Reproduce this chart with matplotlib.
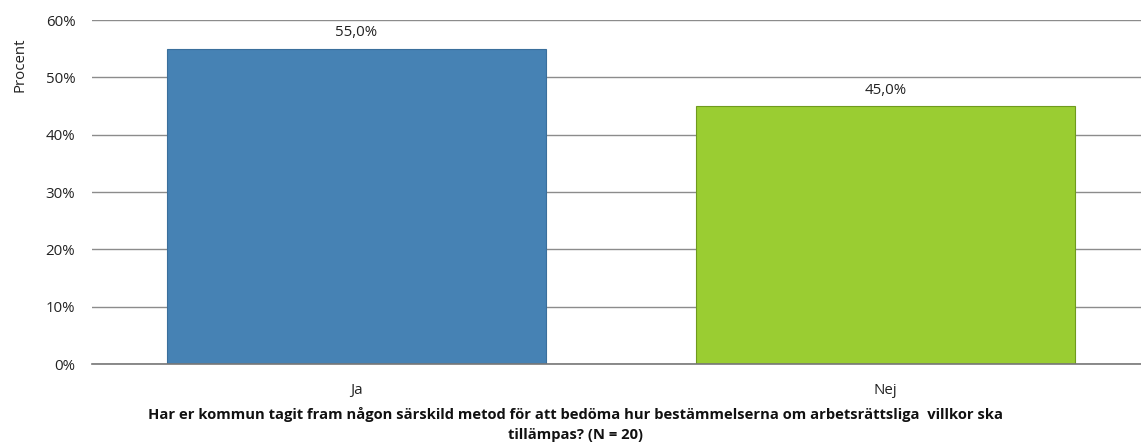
import matplotlib
matplotlib.use("Agg")
import matplotlib.pyplot as plt

categories = ["Ja", "Nej"]
values = [55.0, 45.0]
colors = ["#4682B4", "#9ACD32"]
edges = ["#3a6f9c", "#6f9a1e"]
yticks = [0, 10, 20, 30, 40, 50, 60]
xlabel = ("Har er kommun tagit fram någon särskild metod för att bedöma hur bestämmelserna om arbetsrättsliga  villkor ska\n"
          "tillämpas? (N = 20)")

plt.rcParams['font.family'] = ['Open Sans', 'DejaVu Sans']

W, H = 1141, 445
fig = plt.figure(figsize=(W / 100, H / 100), dpi=100)
left, right = 92, 1150
top, bottom = 20, 364
ax = fig.add_axes([left / W, (H - bottom) / H, (right - left) / W, (bottom - top) / H])

x = list(range(len(categories)))
bars = ax.bar(x, values, width=0.715, color=colors, edgecolor=edges, linewidth=0.8, zorder=3)
ax.set_xlim(-0.5, len(categories) - 0.5)
ax.set_ylim(0, 60)
ax.set_yticks(yticks)
ax.set_yticklabels([f"{t}%" for t in yticks], fontsize=10.8, color="#222222")
ax.set_xticks(x)
ax.set_xticklabels(categories, fontsize=10.8, color="#222222")
ax.tick_params(axis='y', length=0, pad=12)
ax.tick_params(axis='x', length=0, pad=14)
for s in ["top", "right", "left"]:
    ax.spines[s].set_visible(False)
ax.spines["bottom"].set_color("#777777")
ax.spines["bottom"].set_linewidth(1.2)
ax.spines["bottom"].set_zorder(4)
ax.yaxis.grid(True, color="#8c8c8c", linewidth=1.0, zorder=0)
ax.set_axisbelow(True)

for xi, v in zip(x, values):
    ax.annotate(f"{v:.1f}%".replace(".", ","), (xi, v), xytext=(0, 6), textcoords="offset points",
                ha="center", va="bottom", fontsize=10.8, color="#222222")

fig.text(575 / W, 1 - 407 / H, xlabel, ha="center", va="top", fontsize=10.6, fontweight="bold",
         color="#111111", linespacing=1.5)
fig.text(20 / W, 1 - 65 / H, "Procent", rotation=90, ha="center", va="center", fontsize=10.8, color="#222222")

fig.savefig("out.png", dpi=100)
